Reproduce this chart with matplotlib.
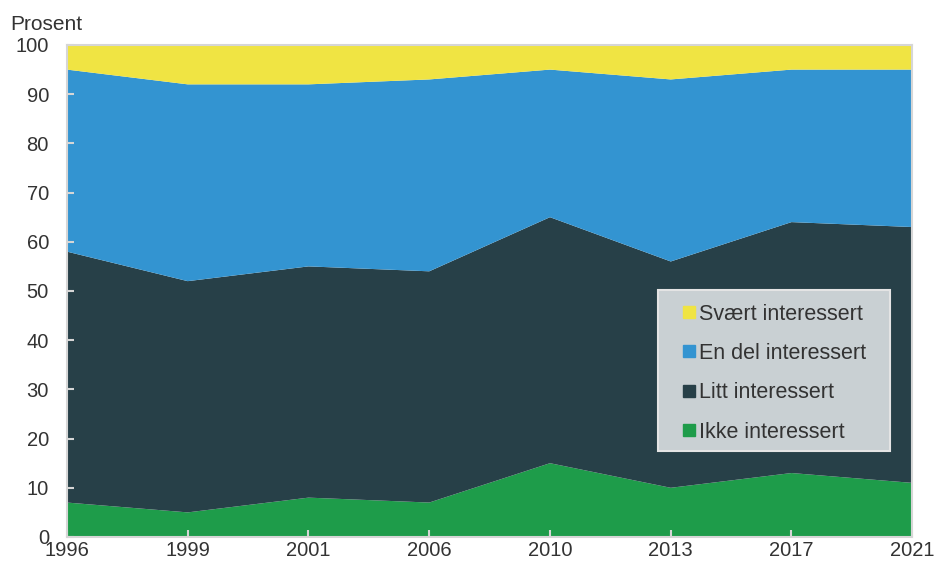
import numpy as np
import matplotlib
matplotlib.use("Agg")
from matplotlib import pyplot as plt
from matplotlib.lines import Line2D
from matplotlib.patches import Rectangle

# Survey years (equally spaced categories)
years = ["1996", "1999", "2001", "2006", "2010", "2013", "2017", "2021"]

# Shares in percent, stacked from bottom to top
ikke = [7, 5, 8, 7, 15, 10, 13, 11]
litt = [51, 47, 47, 47, 50, 46, 51, 52]
en_del = [37, 40, 37, 39, 30, 37, 31, 32]
svaert = [5, 8, 8, 7, 5, 7, 5, 5]

labels = ["Ikke interessert", "Litt interessert", "En del interessert", "Svært interessert"]
colors = ["#1e9c4a", "#274048", "#3394d1", "#f0e443"]

plt.rcParams["font.family"] = ["Liberation Sans", "DejaVu Sans"]
text_color = "#333333"
grey = "#d6d6d6"

fig = plt.figure(figsize=(9.34, 5.61), dpi=100)
ax = fig.add_axes([0.0717, 0.0428, 0.905, 0.877])

x = np.arange(len(years))
ax.stackplot(x, ikke, litt, en_del, svaert, colors=colors, labels=labels, linewidth=0)

ax.set_xlim(0, len(years) - 1)
ax.set_ylim(0, 100)
ax.set_xticks(x)
ax.set_xticklabels(years)
ax.set_yticks(range(0, 101, 10))

for s in ax.spines.values():
    s.set_color(grey)
    s.set_linewidth(1.5)
    s.set_zorder(5)
ax.tick_params(axis="both", colors=grey, labelcolor=text_color, labelsize=14.5,
               length=5, width=1.5, direction="in")
ax.tick_params(axis="x", pad=3)
ax.tick_params(axis="y", pad=13)

fig.text(0.011, 0.9465, "Prosent", fontsize=15, color=text_color)

# Legend box drawn separately so the padding can differ left/right vs top/bottom
box = Rectangle((0.699, 0.175), 0.275, 0.327, transform=ax.transAxes,
                facecolor="#c9d0d3", edgecolor="#e4e4e4", linewidth=1.5, zorder=4)
ax.add_patch(box)

proxies = [Line2D([], [], marker="s", linestyle="", markersize=8, color=c) for c in colors]
leg = ax.legend(proxies[::-1], labels[::-1], loc="center", bbox_to_anchor=(0.8365, 0.333),
                fontsize=15.5, frameon=False, handlelength=0.6,
                handletextpad=0.15, labelspacing=0.85, borderpad=0, borderaxespad=0)
leg.set_zorder(6)
for t in leg.get_texts():
    t.set_color(text_color)

fig.savefig("out.png", dpi=100)
